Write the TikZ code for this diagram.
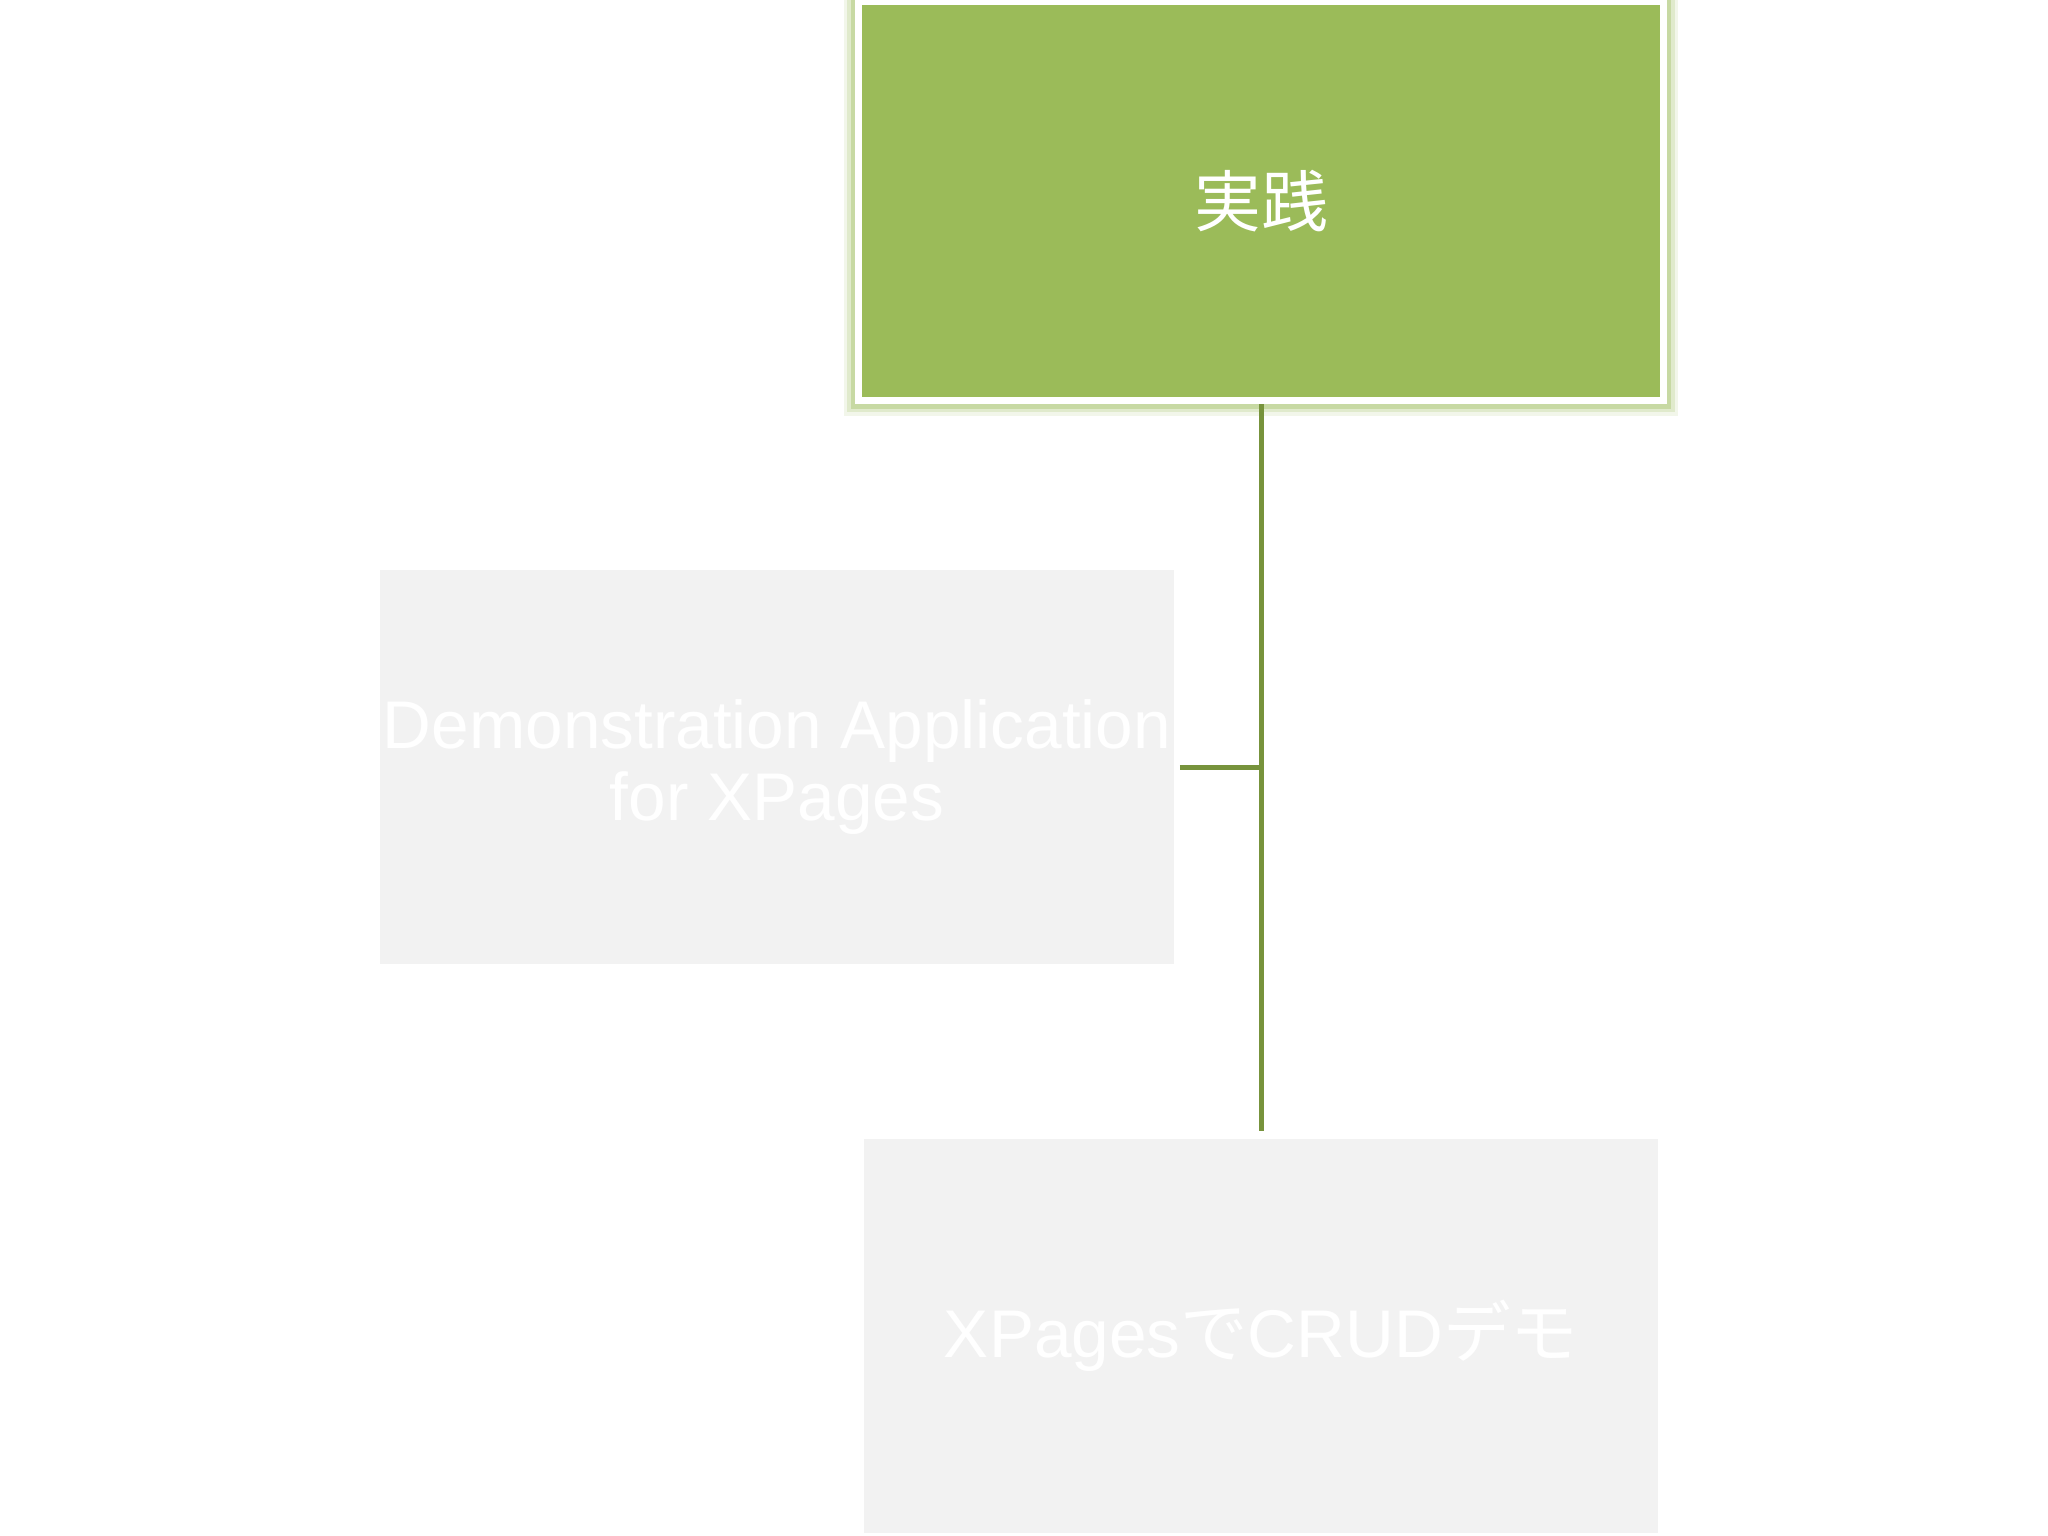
\documentclass[tikz,border=0pt]{standalone}
\usepackage{fontspec}
\setmainfont{Liberation Sans}
\newfontfamily\jpfont{Noto Sans CJK JP}
\definecolor{leafgreen}{HTML}{9BBB59}
\definecolor{linkgreen}{HTML}{77933C}
\definecolor{glowgreen}{HTML}{A9C471}
\definecolor{palegrey}{HTML}{F2F2F2}
\begin{document}
\begin{tikzpicture}[x=0.01cm, y=-0.01cm,
    topbox/.style = {draw=white, line width=0.07cm, fill=leafgreen, minimum width=8.04cm, minimum height=3.99cm, text=white, font=\jpfont\fontsize{19}{22}\selectfont,
      preaction={draw=glowgreen, line width=0.30cm, opacity=0.15},
      preaction={draw=glowgreen, line width=0.23cm, opacity=0.25},
      preaction={draw=glowgreen, line width=0.16cm, opacity=0.45}},
    childbox/.style = {fill=palegrey, inner sep=0pt, minimum width=7.94cm, minimum height=3.93cm, text=white, align=center, font=\fontsize{19.2}{20.5}\selectfont},
    link/.style = {draw=linkgreen, line width=0.05cm}]
        \useasboundingbox (0,0) rectangle (2048,1536);
        \node[topbox] (jissen) at (1261,201) {実践};
        \node[childbox] (demo) at (777,767) {Demonstration Application\\for XPages};
        \node[childbox] (crud) at (1261,1336) {XPages{\jpfont で}CRUD{\jpfont デモ}};
        %
        \draw[link] (jissen.south) -- ([yshift=0.08cm]crud.north);
        \draw[link] ([xshift=0.05cm]demo.east) -- (demo.east -| jissen.south);
      \end{tikzpicture}
\end{document}
